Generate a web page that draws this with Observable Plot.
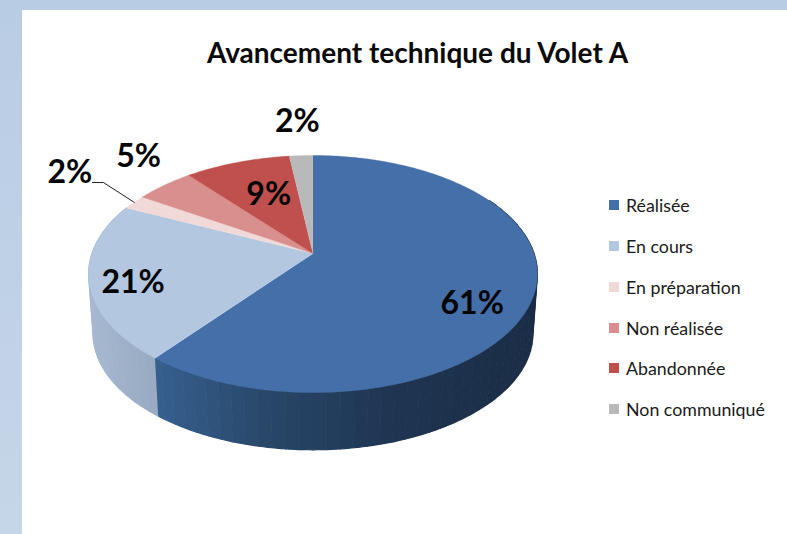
<!DOCTYPE html>
<html lang="fr">
<head>
<meta charset="utf-8">
<script src="https://cdn.jsdelivr.net/npm/d3@7"></script>
<script src="https://cdn.jsdelivr.net/npm/@observablehq/plot@0.6"></script>
<style>
html,body{margin:0;padding:0;width:787px;height:534px;overflow:hidden}
body{position:relative;background:linear-gradient(#b8cce4,#c6d6e9);font-family:Lato,"Open Sans",sans-serif}
#panel{position:absolute;left:22px;top:10px;right:0;bottom:0;background:#fff}
#title{position:absolute;left:22px;width:791px;top:35px;text-align:center;font-size:28px;font-weight:700;color:#0a0a0a;line-height:34px;white-space:nowrap}
#chart{position:absolute;left:0;top:0}
#legend div{position:absolute;left:609px;height:20px;line-height:20px;font-size:17.8px;color:#1a1a1a;white-space:nowrap}
#legend i{position:absolute;left:0;top:5px;width:10px;height:10px}
#legend span{position:absolute;left:17px;top:0}
</style>
</head>
<body>
<div id="panel"></div>
<div id="chart"></div>
<div id="title">Avancement technique du Volet A</div>
<div id="legend"></div>
<script>
// Data
const categories = ["Réalisée","En cours","En préparation","Non réalisée","Abandonnée","Non communiqué"];
const values = [60.6,21.4,2,5,9,2];
const colors = ["#456fa8","#b4c7e1","#f1d9d8","#d98f8e","#c0504d","#b9b9b9"];
const labelDx = [7,-25,-115,-67,11,-7];
const labelDy = [23,10,-44,-47,8,-60];
const legendY = [195,236,277,318,358,399];

// Pie projected with a slight perspective
const P = 0.173, DEPTH = 60 / 115, BOTTOM = 0.98;
const project = (deg, r) => {
  const a = deg * Math.PI / 180, u = r * Math.sin(a), v = -r * Math.cos(a), w = 1 - P * v;
  return [u / w, v / w];
};
const total = d3.sum(values);
let acc = 0;
const slices = values.map((v, i) => {
  const start = acc / total * 360; acc += v;
  return {name: categories[i], value: v, start, end: acc / total * 360, mid: (start + v / total * 180)};
});
const arc = (s, e) => d3.range(0, 1.0001, 1 / Math.max(2, Math.ceil(e - s))).map(t => s + (e - s) * t);

const faces = slices.flatMap(s => [[0, 0], ...arc(s.start, s.end).map(a => project(a, 1))]
  .map(([x, y]) => ({name: s.name, x, y})));

// Side wall, in shaded bands
const blueShade = d3.scaleLinear().domain([-0.72, -0.2, 0.35, 1]).range(["#37608f","#284668","#1f3552","#1b2d46"]);
const paleShade = d3.scaleLinear().domain([-1, -0.72]).range(["#a6b8d0","#98aac2"]);
const wall = [];
let band = 0;
const addWall = (s, e, step, shade) => {
  for (let a = s; a < e; a += step) {
    const b = Math.min(a + step, e), pts = arc(a, b), c = shade(project((a + b) / 2, 1)[0]);
    const ring = [...pts.map(d => project(d, 1)),
      ...pts.slice().reverse().map(d => { const [x, y] = project(d, 1); return [x * BOTTOM, y * BOTTOM + DEPTH]; })];
    ring.forEach(([x, y]) => wall.push({band, x, y, c}));
    band++;
  }
};
addWall(slices[0].start + 60, slices[0].end, 3, blueShade);
addWall(slices[1].start, slices[1].end, 3, paleShade);

const leader = [[-0.998, -0.617], [-0.948, -0.617], project(slices[2].mid, 1)].map(([x, y]) => ({x, y}));

const labelMarks = slices.map((s, i) => {
  const [x, y] = project(s.mid, 0.7);
  return Plot.text([s], {
    x: () => x, y: () => y, text: d => Math.round(d.value) + "%",
    dx: labelDx[i], dy: labelDy[i],
    fontSize: 32, fontWeight: 700, fontFamily: "Lato", fill: "#050505"
  });
});

const plot = Plot.plot({
  width: 787, height: 534, margin: 0,
  style: {background: "transparent", overflow: "visible"},
  x: {domain: [-1, 1], range: [91.5, 533.5], axis: null},
  y: {domain: [-1, 1], range: [138, 368], axis: null},
  color: {domain: categories, range: colors},
  marks: [
    Plot.line(wall, {x: "x", y: "y", z: "band", fill: {value: "c", scale: null}, stroke: {value: "c", scale: null}, strokeWidth: 1.2}),
    Plot.line(faces, {x: "x", y: "y", z: "name", fill: "name", stroke: "name", strokeWidth: 0.4}),
    Plot.line(leader, {x: "x", y: "y", stroke: "#222", strokeWidth: 1}),
    ...labelMarks
  ]
});
document.getElementById("chart").append(plot);

const legend = document.getElementById("legend");
categories.forEach((c, i) => {
  const row = document.createElement("div");
  row.style.top = legendY[i] + "px";
  const sw = document.createElement("i"); sw.style.background = colors[i];
  const tx = document.createElement("span"); tx.textContent = c;
  row.append(sw, tx); legend.append(row);
});
</script>
</body>
</html>
